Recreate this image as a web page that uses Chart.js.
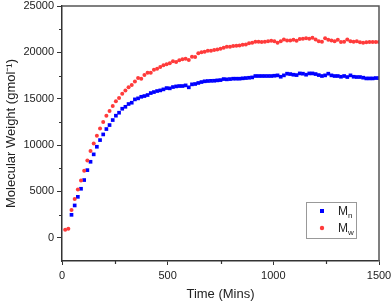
<!DOCTYPE html>
<html>
<head>
<meta charset="utf-8">
<script src="https://cdn.jsdelivr.net/npm/chart.js@4"></script>
<style>
  html, body { margin: 0; padding: 0; background: #fff; }
  #wrap { width: 392px; height: 303px; }
</style>
</head>
<body>
<div id="wrap"><canvas id="c" width="392" height="303"></canvas></div>
<script>
// time in minutes
const times = [
  15, 30, 45, 60, 75, 90, 105, 120, 135, 150,
  165, 180, 195, 210, 225, 240, 255, 270, 285, 300,
  315, 330, 345, 360, 375, 390, 405, 420, 435, 450,
  465, 480, 495, 510, 525, 540, 555, 570, 585, 600,
  615, 630, 645, 660, 675, 690, 705, 720, 735, 750,
  765, 780, 795, 810, 825, 840, 855, 870, 885, 900,
  915, 930, 945, 960, 975, 990, 1005, 1020, 1035, 1050,
  1065, 1080, 1095, 1110, 1125, 1140, 1155, 1170, 1185, 1200,
  1215, 1230, 1245, 1260, 1275, 1290, 1305, 1320, 1335, 1350,
  1365, 1380, 1395, 1410, 1425, 1440, 1455, 1470, 1485, 1500
];

const mn = [
  null, null, 2480, 3490, 4420, 5290, 6230, 7300, 8200, 9000,
  9820, 10540, 11150, 11730, 12160, 12700, 13170, 13490, 13920, 14130,
  14430, 14570, 14930, 15040, 15210, 15290, 15400, 15610, 15720, 15830,
  15900, 16010, 16150, 16120, 16260, 16330, 16370, 16370, 16440, 16230,
  16550, 16590, 16700, 16800, 16880, 16910, 16930, 16940, 16980, 17010,
  17120, 17090, 17120, 17160, 17160, 17160, 17200, 17230, 17260, 17300,
  17450, 17450, 17450, 17450, 17450, 17450, 17480, 17520, 17370, 17520,
  17700, 17660, 17590, 17550, 17730, 17700, 17590, 17730, 17730, 17660,
  17550, 17450, 17520, 17700, 17520, 17450, 17450, 17370, 17450, 17340,
  17520, 17370, 17340, 17340, 17270, 17190, 17190, 17190, 17230, 17230
];

const mw = [
  860, 970, 2990, 4180, 5220, 6190, 7230, 8350, 9350, 10180,
  11000, 11800, 12480, 13170, 13670, 14210, 14720, 15070, 15540, 15900,
  16230, 16480, 16870, 17230, 17160, 17550, 17800, 17800, 18130, 18240,
  18420, 18600, 18710, 18820, 19030, 18960, 19140, 19250, 19310, 19170,
  19530, 19500, 19900, 20000, 20070, 20180, 20180, 20250, 20320, 20400,
  20500, 20610, 20610, 20680, 20720, 20750, 20830, 20860, 20970, 21040,
  21150, 21150, 21110, 21150, 21190, 21260, 21190, 21040, 21190, 21400,
  21290, 21290, 21370, 21260, 21440, 21470, 21510, 21470, 21580, 21400,
  21190, 21150, 21510, 21370, 21290, 21190, 21370, 21110, 21150, 21400,
  21190, 21150, 21190, 21080, 21040, 21080, 21110, 21110, 21110, 21110
];

const seriesNames = ["Mn", "Mw"];
const xTitle = "Time (Mins)";
const yTitle = "Molecular Weight (gmol\u207B\u00B9)";

const FONT = "'Liberation Sans', Arial, sans-serif";
const AXIS = "#333";

function pts(vals) {
  const out = [];
  for (let i = 0; i < times.length; i++) {
    if (vals[i] !== null) out.push({ x: times[i], y: vals[i] });
  }
  return out;
}

// minor ticks, box frame and the legend with subscripts
const extras = {
  id: "extras",
  afterDraw(chart) {
    const ctx = chart.ctx;
    const a = chart.chartArea;
    const xs = chart.scales.x, ys = chart.scales.y;
    ctx.save();
    ctx.strokeStyle = AXIS;
    ctx.lineWidth = 1.2;
    ctx.beginPath();
    xs.ticks.forEach(t => {
      if (t.value % 500 !== 0) {
        const px = Math.round(xs.getPixelForValue(t.value)) + 0.5;
        ctx.moveTo(px, a.bottom);
        ctx.lineTo(px, a.bottom + 3);
      }
    });
    ys.ticks.forEach(t => {
      if (t.value % 5000 !== 0 && t.value > ys.min) {
        const py = Math.round(ys.getPixelForValue(t.value)) + 0.5;
        ctx.moveTo(a.left, py);
        ctx.lineTo(a.left - 3, py);
      }
    });
    ctx.stroke();

    // top and right frame
    ctx.strokeStyle = "#555";
    ctx.lineWidth = 1.5;
    ctx.beginPath();
    ctx.moveTo(a.left, a.top);
    ctx.lineTo(a.right, a.top);
    ctx.lineTo(a.right, a.bottom);
    ctx.stroke();

    // legend
    const bx = 306, by = 202, bw = 50, bh = 36;
    ctx.fillStyle = "#fff";
    ctx.fillRect(bx, by, bw, bh);
    ctx.strokeStyle = "#999";
    ctx.lineWidth = 1;
    ctx.strokeRect(bx + 0.5, by + 0.5, bw, bh);
    chart.data.datasets.forEach((ds, i) => {
      const cy = by + 9 + i * 17;
      ctx.fillStyle = ds.backgroundColor;
      if (ds.pointStyle === "rect") {
        ctx.fillRect(bx + 14, cy - 2, 4, 4);
      } else {
        ctx.beginPath();
        ctx.arc(bx + 16, cy, 2.2, 0, Math.PI * 2);
        ctx.fill();
      }
      ctx.fillStyle = "#222";
      ctx.textBaseline = "alphabetic";
      ctx.font = "12px " + FONT;
      const main = ds.label.charAt(0);
      ctx.fillText(main, bx + 32, cy + 4);
      const w = ctx.measureText(main).width;
      ctx.font = "8px " + FONT;
      ctx.fillText(ds.label.slice(1), bx + 32 + w, cy + 7);
    });
    ctx.restore();
  }
};

new Chart(document.getElementById("c"), {
  type: "scatter",
  data: {
    datasets: [
      {
        label: seriesNames[0],
        data: pts(mn),
        pointStyle: "rect",
        pointRadius: 2.6,
        backgroundColor: "#0000ff",
        borderWidth: 0,
        order: 1
      },
      {
        label: seriesNames[1],
        data: pts(mw),
        pointStyle: "circle",
        pointRadius: 2,
        backgroundColor: "#ff3b3b",
        borderWidth: 0,
        order: 0
      }
    ]
  },
  options: {
    responsive: false,
    animation: false,
    layout: { padding: 0 },
    plugins: {
      legend: { display: false },
      tooltip: { enabled: false }
    },
    scales: {
      x: {
        type: "linear",
        min: 0,
        max: 1500,
        afterFit: s => { s.height = 42; s.paddingRight = 13; s.paddingLeft = 0; },
        border: { display: true, color: AXIS, width: 1.5 },
        grid: {
          drawOnChartArea: false,
          tickLength: 4,
          tickColor: c => (c.tick && c.tick.value % 500 === 0 ? AXIS : "rgba(0,0,0,0)")
        },
        ticks: {
          stepSize: 250,
          padding: 4,
          maxRotation: 0,
          color: "#222",
          font: { family: FONT, size: 11 },
          callback: v => (v % 500 === 0 ? v : "")
        },
        title: {
          display: true,
          text: xTitle,
          color: "#222",
          font: { family: FONT, size: 13 },
          padding: { top: 0, bottom: 1 }
        }
      },
      y: {
        min: -2500,
        max: 25000,
        afterFit: s => { s.width = 62; s.paddingTop = 6; s.paddingBottom = 0; },
        border: { display: true, color: AXIS, width: 1.5 },
        grid: {
          drawOnChartArea: false,
          tickLength: 5,
          tickColor: c => (c.tick && c.tick.value % 5000 === 0 ? AXIS : "rgba(0,0,0,0)")
        },
        ticks: {
          stepSize: 2500,
          padding: 3,
          color: "#222",
          font: { family: FONT, size: 11 },
          callback: v => (v % 5000 === 0 ? v : "")
        },
        title: {
          display: true,
          text: yTitle,
          color: "#222",
          font: { family: FONT, size: 13 },
          padding: { top: 4, bottom: 4 }
        }
      }
    }
  },
  plugins: [extras]
});
</script>
</body>
</html>
